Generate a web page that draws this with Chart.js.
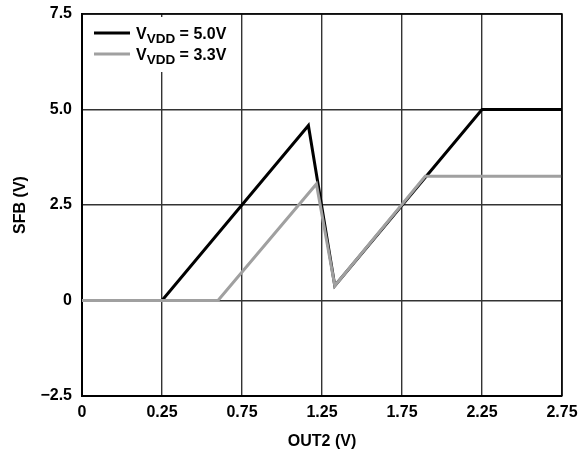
<!DOCTYPE html>
<html>
<head>
<meta charset="utf-8">
<script src="https://cdn.jsdelivr.net/npm/chart.js@4/dist/chart.umd.min.js"></script>
<style>
  html, body { margin: 0; padding: 0; background: #fff; }
  #wrap { width: 586px; height: 452px; }
</style>
</head>
<body>
<div id="wrap"><canvas id="c" width="586" height="452"></canvas></div>
<script>
// X tick positions (axis units) and their printed labels
const xTickValues = [-0.25, 0.25, 0.75, 1.25, 1.75, 2.25, 2.75];
const xTickLabels = ['0', '0.25', '0.75', '1.25', '1.75', '2.25', '2.75'];
// Y ticks
const yTickValues = [-2.5, 0, 2.5, 5.0, 7.5];
const yTickLabels = ['\u22122.5', '0', '2.5', '5.0', '7.5'];

// Series: V_VDD = 5.0V
const vdd50X = [-0.25, 0.25, 1.165, 1.33, 2.25, 2.75];
const vdd50Y = [0, 0, 4.58, 0.385, 5.0, 5.0];
// Series: V_VDD = 3.3V
const vdd33X = [-0.25, 0.6, 1.215, 1.33, 1.895, 2.75];
const vdd33Y = [0, 0, 3.05, 0.385, 3.25, 3.25];

const seriesNames = ['V_VDD = 5.0V', 'V_VDD = 3.3V'];
const FONT = '"Liberation Sans", Arial, sans-serif';

const toPts = (xs, ys) => xs.map((x, i) => ({ x: x, y: ys[i] }));

const framePlugin = {
  id: 'frame',
  afterDraw(chart) {
    const { ctx, chartArea: a } = chart;
    ctx.save();
    ctx.strokeStyle = '#000';
    ctx.lineWidth = 1.5;
    ctx.beginPath();
    ctx.moveTo(a.left, a.top);
    ctx.lineTo(a.right, a.top);
    ctx.lineTo(a.right, a.bottom);
    ctx.stroke();
    ctx.fillStyle = '#fff';
    ctx.fillRect(a.left + 2, a.top + 3, 152, 55);
    const rows = [
      { color: '#000', val: ' = 5.0V', y: a.top + 19, base: a.top + 25 },
      { color: '#a0a0a0', val: ' = 3.3V', y: a.top + 40, base: a.top + 46 }
    ];
    rows.forEach(r => {
      ctx.strokeStyle = r.color;
      ctx.lineWidth = 3;
      ctx.beginPath();
      ctx.moveTo(a.left + 12, r.y);
      ctx.lineTo(a.left + 48, r.y);
      ctx.stroke();
      ctx.fillStyle = '#000';
      ctx.textBaseline = 'alphabetic';
      ctx.textAlign = 'left';
      let x = a.left + 54;
      ctx.font = 'bold 16px ' + FONT;
      ctx.fillText('V', x, r.base);
      x += ctx.measureText('V').width;
      ctx.font = 'bold 13.5px ' + FONT;
      ctx.fillText('VDD', x, r.base + 4);
      x += ctx.measureText('VDD').width;
      ctx.font = 'bold 16px ' + FONT;
      ctx.fillText(r.val, x, r.base);
    });
    ctx.restore();
  }
};

new Chart(document.getElementById('c'), {
  type: 'line',
  data: {
    datasets: [
      {
        label: seriesNames[0],
        data: toPts(vdd50X, vdd50Y),
        borderColor: '#000',
        borderWidth: 3,
        pointRadius: 0,
        tension: 0,
        borderJoinStyle: 'miter',
        fill: false,
        order: 1
      },
      {
        label: seriesNames[1],
        data: toPts(vdd33X, vdd33Y),
        borderColor: '#a0a0a0',
        borderWidth: 3,
        pointRadius: 0,
        tension: 0,
        borderJoinStyle: 'miter',
        fill: false,
        order: 0
      }
    ]
  },
  options: {
    responsive: false,
    animation: false,
    devicePixelRatio: 1,
    layout: { padding: { left: 0, top: 14, right: 24, bottom: 0 } },
    plugins: { legend: { display: false }, tooltip: { enabled: false } },
    scales: {
      x: {
        type: 'linear',
        min: -0.25,
        max: 2.75,
        afterBuildTicks: s => { s.ticks = xTickValues.map(v => ({ value: v })); },
        afterFit: s => { s.height = 56; s.paddingLeft = 0; s.paddingRight = 0; },
        ticks: {
          callback: (v, i) => xTickLabels[i],
          font: { family: FONT, size: 16, weight: 'bold' },
          color: '#000',
          padding: 7,
          maxRotation: 0,
          autoSkip: false
        },
        grid: { color: '#333', lineWidth: 1.4, drawTicks: false },
        border: { color: '#000', width: 2 },
        title: {
          display: true,
          text: 'OUT2 (V)',
          font: { family: FONT, size: 16, weight: 'bold' },
          color: '#000',
          padding: { top: 0, bottom: 1 }
        }
      },
      y: {
        type: 'linear',
        min: -2.5,
        max: 7.5,
        afterBuildTicks: s => { s.ticks = yTickValues.map(v => ({ value: v })); },
        afterFit: s => { s.width = 82; s.paddingTop = 0; s.paddingBottom = 0; },
        ticks: {
          callback: (v, i) => yTickLabels[i],
          font: { family: FONT, size: 16, weight: 'bold' },
          color: '#000',
          padding: 10,
          autoSkip: false
        },
        grid: { color: '#333', lineWidth: 1.4, drawTicks: false },
        border: { color: '#000', width: 2 },
        title: {
          display: true,
          text: 'SFB (V)',
          font: { family: FONT, size: 16, weight: 'bold' },
          color: '#000',
          padding: { top: 11, bottom: 0 }
        }
      }
    }
  },
  plugins: [framePlugin]
});
</script>
</body>
</html>
